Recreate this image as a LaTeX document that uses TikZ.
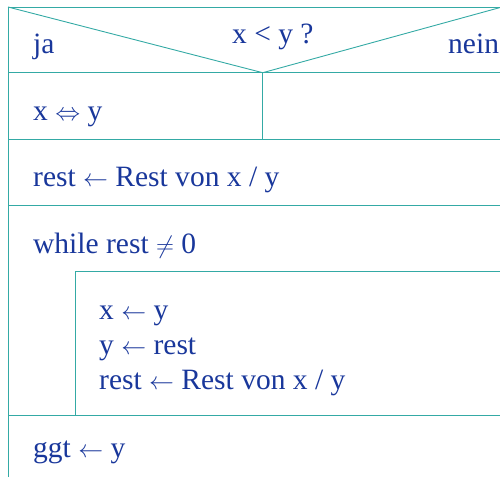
\documentclass[tikz,border=0pt]{standalone}
\usepackage{fontspec}
\setmainfont{Liberation Serif}
\definecolor{frame}{RGB}{52,170,165}
\definecolor{ink}{RGB}{25,55,155}
\begin{document}
\begin{tikzpicture}[x=1pt,y=-1pt,
  rule/.style={draw=frame,line width=0.9pt},
  lbl/.style={anchor=base west,inner sep=0pt,text=ink,
    font=\fontsize{29.5}{35}\selectfont}]
\useasboundingbox (0,0) rectangle (500,477);
% corner points of the structogram
\coordinate (tl) at (8,7);
\coordinate (tr) at (502,7);
\coordinate (apex) at (262.7,72.7);
% outer frame and block separators
\draw[rule] (8,477) -- (tl) -- (tr);
\draw[rule] (8,72.7) -- (502,72.7);
\draw[rule] (tl) -- (apex) -- (tr);
\draw[rule] (apex) -- (262.7,139.3);
\draw[rule] (8,139.3) -- (502,139.3);
\draw[rule] (8,205) -- (502,205);
% loop body
\draw[rule] (502,271.7) -- (75,271.7) -- (75,415);
\draw[rule] (8,415) -- (502,415);
% texts
\node[lbl] (ja) at (33,53) {ja};
\node[lbl] (cond) at (232,43) {x < y ?};
\node[lbl] (nein) at (448,53) {nein};
\node[lbl] (swap) at (33,120) {x $\Leftrightarrow$ y};
\node[lbl] (rest1) at (33,186.5) {rest $\leftarrow$ Rest von x / y};
\node[lbl] (while) at (33,253) {while rest $\neq$ 0};
\node[lbl] (b1) at (99,319) {x $\leftarrow$ y};
\node[lbl] (b2) at (99,354) {y $\leftarrow$ rest};
\node[lbl] (b3) at (99,389) {rest $\leftarrow$ Rest von x / y};
\node[lbl] (ggt) at (33,457) {ggt $\leftarrow$ y};
\end{tikzpicture}
\end{document}
